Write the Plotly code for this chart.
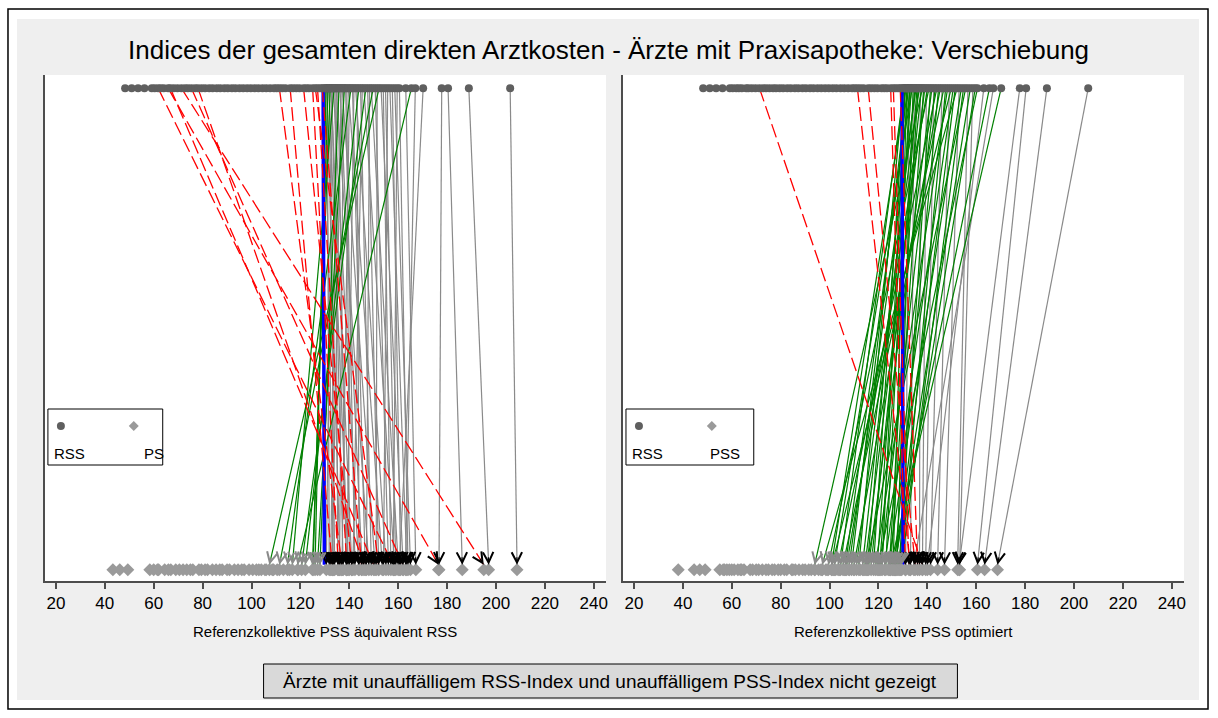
import plotly.graph_objects as go

W, H = 1218, 718

# Ärzte mit RSS-Index unter 130: RSS, PS (äquivalent RSS), PSS (optimiert)
rss_low = [48.3, 51.0, 53.6, 56.2, 59.2, 60.4, 61.8, 62.9, 64.1, 65.9, 66.8, 68.2, 69.7, 71.3,
           72.8, 74.0, 75.4, 76.9, 78.1, 79.6, 81.0, 82.7, 84.1, 85.8, 87.2, 88.9, 90.3, 92.0,
           93.4, 95.1, 96.6, 98.2, 99.7, 101.3, 102.8, 104.5, 106.0, 107.6, 109.2, 110.3, 111.4,
           112.6, 113.9, 115.8, 117.0, 118.3, 119.6, 121.3, 122.4, 123.5, 125.0, 126.1, 127.0,
           128.0, 128.9, 129.4]
ps_low = [58.4, 43.3, 62.0, 46.1, 49.4, 60.0, 158.0, 64.5, 61.5, 176.5, 150.0, 67.0, 70.5, 195.0,
          66.0, 73.5, 162.0, 69.0, 146.0, 76.0, 72.0, 79.5, 75.0, 82.0, 78.5, 85.5, 81.0, 88.0,
          84.0, 91.0, 87.0, 94.5, 90.0, 97.0, 93.0, 100.5, 96.0, 103.0, 99.0, 105.5, 137.0,
          102.0, 108.5, 133.0, 106.0, 110.5, 104.0, 141.0, 113.0, 109.0, 135.5, 152.0, 139.0,
          115.5, 145.0, 119.0]
pss_low = [55.1, 38.1, 44.6, 57.0, 46.9, 49.1, 59.0, 56.5, 61.0, 63.5, 58.0, 60.0, 65.0, 138.0,
           67.5, 62.5, 70.0, 64.0, 72.5, 68.5, 75.0, 71.0, 77.5, 74.0, 80.0, 76.5, 82.5, 79.0,
           85.0, 81.5, 87.5, 84.5, 90.0, 86.0, 92.5, 89.0, 95.5, 91.5, 97.0, 94.0, 133.0,
           99.0, 96.5, 135.0, 102.5, 98.5, 104.0, 101.5, 106.0, 108.0, 131.0, 132.5, 110.0,
           112.5, 136.0, 114.0]

# Ärzte mit RSS-Index ab 130
rss_high = [130.2, 130.5, 130.8, 131.0, 131.3, 131.6, 131.9, 132.2, 132.5, 132.8, 133.1, 133.5,
            133.8, 134.2, 134.6, 135.0, 135.4, 135.8, 136.2, 136.7, 137.1, 137.6, 138.0, 138.5,
            139.0, 139.6, 140.1, 140.7, 141.3, 141.9, 142.6, 143.2, 143.9, 144.6, 145.3, 146.0,
            146.8, 147.5, 148.3, 149.0, 149.8, 150.6, 151.4, 152.2, 153.0, 153.9, 154.8, 155.7,
            156.6, 157.6, 158.6, 159.6, 160.5, 163.1, 165.4, 167.0, 170.2, 177.8, 180.4, 188.9,
            205.8]
ps_high = [133.5, 126.0, 136.2, 131.8, 125.2, 139.5, 134.0, 124.9, 141.0, 137.5, 130.6, 143.8,
           116.7, 135.3, 148.0, 132.4, 138.7, 128.0, 145.2, 133.0, 150.5, 136.0, 127.0, 142.3,
           140.0, 153.5, 137.0, 114.7, 146.5, 139.0, 155.0, 144.0, 122.0, 149.0, 141.5, 158.5,
           120.5, 152.0, 147.0, 160.0, 111.4, 156.0, 151.0, 107.3, 162.0, 157.0, 159.0, 154.0,
           163.5, 161.0, 165.0, 158.0, 164.0, 167.2, 118.8, 163.0, 160.5, 176.7, 186.2, 197.0,
           208.6]
pss_high = [112.0, 104.5, 118.0, 121.5, 100.8, 126.0, 109.0, 115.5, 131.1, 123.0, 106.5, 119.5,
            102.0, 127.5, 133.1, 113.5, 108.0, 120.5, 124.5, 111.0, 136.8, 117.0, 93.9, 125.0,
            114.5, 138.0, 107.0, 99.5, 128.5, 116.0, 139.3, 121.0, 103.5, 126.5, 110.0, 141.3,
            105.5, 129.0, 118.8, 144.2, 101.0, 122.5, 127.0, 97.0, 147.0, 124.0, 129.5, 115.0,
            152.4, 126.8, 153.2, 128.0, 120.0, 140.0, 125.8, 134.5, 125.0, 153.0, 160.5, 163.4,
            168.7]

# Referenzlinie (blau)
ref_oben = [129.3, 129.6]
ref_unten = [129.8, 130.1]

GRENZE = 130
x_ticks = [20, 40, 60, 80, 100, 120, 140, 160, 180, 200, 220, 240]

rss = rss_low + rss_high
panels = [
    dict(xa="x", ya="y", werte=ps_low + ps_high, titel="Referenzkollektive PSS äquivalent RSS",
         leg2="PS", dom=(45, 607)),
    dict(xa="x2", ya="y2", werte=pss_low + pss_high, titel="Referenzkollektive PSS optimiert",
         leg2="PSS", dom=(624, 1186)),
]

# Pixelgeometrie der Plotflächen
PLOT_TOP, PLOT_BOT = 75, 581
X_RANGE = [15.5, 245]
Y_TOP, Y_TIP, Y_DIA = 0.974, 0.032, 0.022

FONT = "Liberation Sans, Arial, sans-serif"
C_DOT = "#5f5f5f"
C_DIA = "#9a9a9a"
C_GRAY = "#8a8a8a"
C_GREEN = "#008000"
C_RED = "#ff0000"
C_BLUE = "#0000ff"


def px(x):
    return x / W


def py(y):
    return 1 - y / H


fig = go.Figure()
annotations = []
shapes = []

# Rahmen und Hintergrund
shapes.append(dict(type="rect", xref="paper", yref="paper", x0=px(8), x1=px(1210), y0=py(709),
                   y1=py(9), line=dict(color="black", width=1.5), fillcolor="white", layer="below"))
shapes.append(dict(type="rect", xref="paper", yref="paper", x0=px(17), x1=px(1201), y0=py(700),
                   y1=py(19), line=dict(width=0), fillcolor="#efefef", layer="below"))

for k, p in enumerate(panels):
    xa, ya = p["xa"], p["ya"]
    werte = p["werte"]
    d0, d1 = p["dom"]
    shapes.append(dict(type="rect", xref="paper", yref="paper", x0=px(d0), x1=px(d1),
                       y0=py(PLOT_BOT), y1=py(PLOT_TOP), line=dict(width=0), fillcolor="white",
                       layer="below"))

    sx = (d1 - d0) / (X_RANGE[1] - X_RANGE[0])
    sy = (PLOT_BOT - PLOT_TOP) / 1.0

    groups = {"grau": ([], []), "gruen": ([], []), "rot": ([], [])}
    heads = []
    for a, b in zip(rss, werte):
        if a < GRENZE and b < GRENZE:
            continue
        if a < GRENZE:
            g, hc = "rot", "black"
        elif b < GRENZE:
            g, hc = "gruen", C_GRAY
        else:
            g, hc = "grau", "black"
        groups[g][0].extend([a, b, None])
        groups[g][1].extend([Y_TOP, Y_TIP, None])
        heads.append((a, b, hc))

    fig.add_trace(go.Scatter(x=groups["grau"][0], y=groups["grau"][1], mode="lines",
                             line=dict(color=C_GRAY, width=1.2), xaxis=xa, yaxis=ya,
                             showlegend=False, hoverinfo="skip"))
    fig.add_trace(go.Scatter(x=groups["gruen"][0], y=groups["gruen"][1], mode="lines",
                             line=dict(color=C_GREEN, width=1.2), xaxis=xa, yaxis=ya,
                             showlegend=False, hoverinfo="skip"))
    fig.add_trace(go.Scatter(x=ref_oben[k:k + 1] + ref_unten[k:k + 1], y=[Y_TOP, Y_TIP],
                             mode="lines", line=dict(color=C_BLUE, width=3.5), xaxis=xa,
                             yaxis=ya, showlegend=False, hoverinfo="skip"))
    fig.add_trace(go.Scatter(x=groups["rot"][0], y=groups["rot"][1], mode="lines",
                             line=dict(color=C_RED, width=1.3, dash="14px,5px"), xaxis=xa,
                             yaxis=ya, showlegend=False, hoverinfo="skip"))

    # Marker: RSS oben, PS/PSS unten
    fig.add_trace(go.Scatter(x=rss, y=[Y_TOP] * len(rss), mode="markers",
                             marker=dict(symbol="circle", size=8, color=C_DOT),
                             xaxis=xa, yaxis=ya, showlegend=False, hoverinfo="x"))
    fig.add_trace(go.Scatter(x=werte, y=[Y_DIA] * len(werte), mode="markers",
                             marker=dict(symbol="diamond", size=10, color=C_DIA),
                             xaxis=xa, yaxis=ya, showlegend=False, hoverinfo="x"))

    # Pfeilspitzen
    L = 9.0
    for a, b, hc in heads:
        dx = (a - b) * sx
        dy = -(Y_TOP - Y_TIP) * sy
        n = (dx * dx + dy * dy) ** 0.5
        annotations.append(dict(x=b, y=Y_TIP, xref=xa, yref=ya, text="", showarrow=True,
                                arrowhead=5, arrowsize=1.7, arrowwidth=1.2, arrowcolor=hc,
                                ax=dx / n * L, ay=dy / n * L, standoff=0))

    # Achsentitel
    annotations.append(dict(x=px((d0 + d1) / 2), y=py(631), xref="paper", yref="paper",
                            text=p["titel"], showarrow=False, font=dict(size=15, color="black"),
                            xanchor="center", yanchor="middle"))

    # Legende
    lx = d0 + 3
    shapes.append(dict(type="rect", xref="paper", yref="paper", x0=px(lx), x1=px(lx + 115 + 13 * k),
                       y0=py(465), y1=py(409), line=dict(color="black", width=1),
                       fillcolor="white", layer="above"))
    cx, cy = lx + 13, 426
    shapes.append(dict(type="circle", xref="paper", yref="paper", x0=px(cx - 4), x1=px(cx + 4),
                       y0=py(cy + 4), y1=py(cy - 4), line=dict(width=0), fillcolor=C_DOT,
                       layer="above"))
    dxp = lx + 86
    shapes.append(dict(type="path", xref="paper", yref="paper",
                       path=f"M {px(dxp - 5)},{py(cy)} L {px(dxp)},{py(cy - 5)} "
                            f"L {px(dxp + 5)},{py(cy)} L {px(dxp)},{py(cy + 5)} Z",
                       line=dict(width=0), fillcolor=C_DIA, layer="above"))
    annotations.append(dict(x=px(lx + 4), y=py(453), xref="paper", yref="paper", text="RSS",
                            showarrow=False, font=dict(size=15, color="black"),
                            xanchor="left", yanchor="middle"))
    annotations.append(dict(x=px(dxp - 4 if k else dxp + 8), y=py(453), xref="paper",
                            yref="paper", text=p["leg2"], showarrow=False,
                            font=dict(size=15, color="black"), xanchor="left",
                            yanchor="middle"))

# Titel
annotations.append(dict(x=px(609), y=py(50), xref="paper", yref="paper",
                        text="Indices der gesamten direkten Arztkosten - Ärzte mit Praxisapotheke: Verschiebung",
                        showarrow=False, font=dict(size=26, color="black"), xanchor="center",
                        yanchor="middle"))

# Hinweisbox
shapes.append(dict(type="rect", xref="paper", yref="paper", x0=px(264), x1=px(959),
                   y0=py(698), y1=py(664), line=dict(color="black", width=1),
                   fillcolor="#d9d9d9", layer="above"))
annotations.append(dict(x=px(611), y=py(681), xref="paper", yref="paper",
                        text="Ärzte mit unauffälligem RSS-Index und unauffälligem PSS-Index nicht gezeigt",
                        showarrow=False, font=dict(size=19, color="black"), xanchor="center",
                        yanchor="middle"))

xax = dict(range=X_RANGE, tickvals=x_ticks, ticks="outside", ticklen=6, tickwidth=1.5,
           tickcolor="#4d4d4d", showline=True, linecolor="#4d4d4d", linewidth=2,
           showgrid=False, zeroline=False, tickfont=dict(size=17, color="black"), fixedrange=True)
yax = dict(range=[0, 1], showline=True, linecolor="#4d4d4d", linewidth=2, showgrid=False,
           zeroline=False, showticklabels=False, ticks="", fixedrange=True)

fig.update_layout(
    width=W, height=H,
    margin=dict(l=0, r=0, t=0, b=0),
    paper_bgcolor="white", plot_bgcolor="white",
    font=dict(family=FONT, color="black"),
    xaxis=dict(domain=[px(45), px(607)], anchor="y", **xax),
    yaxis=dict(domain=[py(PLOT_BOT), py(PLOT_TOP)], anchor="x", **yax),
    xaxis2=dict(domain=[px(624), px(1186)], anchor="y2", **xax),
    yaxis2=dict(domain=[py(PLOT_BOT), py(PLOT_TOP)], anchor="x2", **yax),
    shapes=shapes,
    annotations=annotations,
    showlegend=False,
)

fig.write_html("out.html")
